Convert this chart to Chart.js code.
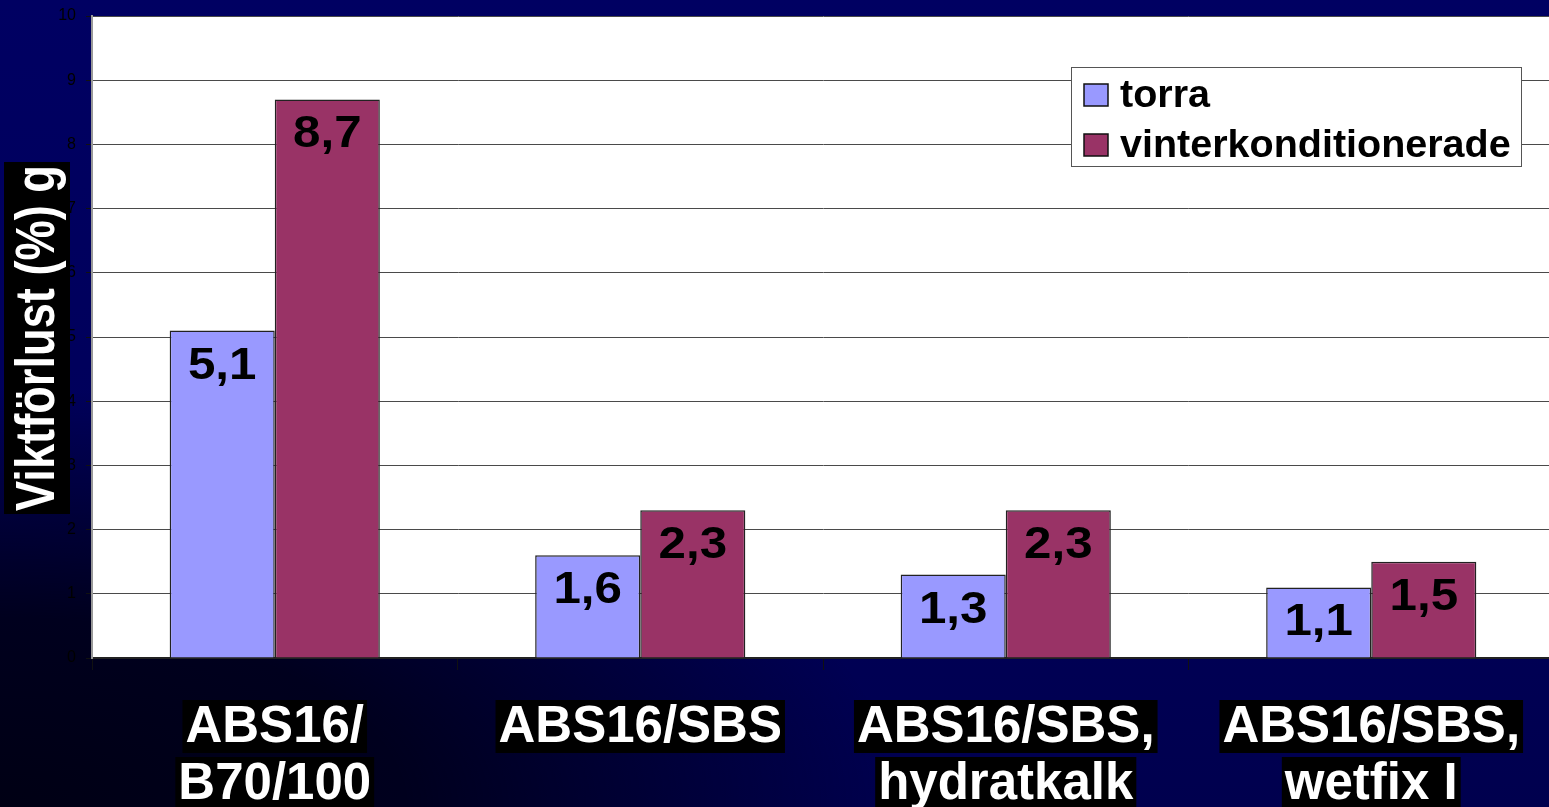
<!DOCTYPE html>
<html>
<head>
<meta charset="utf-8">
<title>Viktförlust</title>
<script src="https://cdn.jsdelivr.net/npm/chart.js@4.4.1/dist/chart.umd.min.js"></script>
<style>
    html, body {
        margin: 0;
        padding: 0;
        width: 1549px;
        height: 807px;
        overflow: hidden;
    }
    body {
        background:
            radial-gradient(ellipse 900px 420px at 0% 100%, #000014 0%, #00001e 45%, rgba(0,0,40,0) 100%),
            linear-gradient(180deg, #000062 0%, #00005a 60%, #00004e 100%);
    }
    #chart {
        position: absolute;
        left: 0;
        top: 0;
    }
</style>
</head>
<body>
<canvas id="chart" width="1554" height="807"></canvas>
<script>
"use strict";

///////////////// DATA //////////////////////////////
// categories on the x axis (each entry is one line of the label)
const categories = [
    ['ABS16/', 'B70/100'],
    ['ABS16/SBS'],
    ['ABS16/SBS,', 'hydratkalk'],
    ['ABS16/SBS,', 'wetfix I']
];
// series names
const seriesNames = ['torra', 'vinterkonditionerade'];
// weight loss values, one array per series
const torra = [5.1, 1.6, 1.3, 1.1];
const vinter = [8.7, 2.3, 2.3, 1.5];
// y axis ticks 0..10
const yTicks = [0, 1, 2, 3, 4, 5, 6, 7, 8, 9, 10];
const yTitle = 'Viktförlust (%) g';

const colors = ['#9999ff', '#993366'];

///////////////// PLUGINS //////////////////////////////
// white plot background
const plotBackground = {
    id: 'plotBackground',
    beforeDraw(chart) {
        const { ctx, chartArea } = chart;
        ctx.save();
        ctx.fillStyle = '#ffffff';
        ctx.fillRect(chartArea.left, chartArea.top, chartArea.right - chartArea.left, chartArea.bottom - chartArea.top);
        ctx.restore();
    }
};

// value labels drawn inside the top of each bar, with a decimal comma
const barLabels = {
    id: 'barLabels',
    afterDatasetsDraw(chart) {
        const ctx = chart.ctx;
        ctx.save();
        ctx.font = 'bold 44px "Liberation Sans", Arial, sans-serif';
        ctx.fillStyle = '#000';
        ctx.textAlign = 'center';
        ctx.textBaseline = 'alphabetic';
        chart.data.datasets.forEach((ds, i) => {
            const meta = chart.getDatasetMeta(i);
            meta.data.forEach((bar, j) => {
                const txt = String(ds.data[j]).replace('.', ',');
                ctx.save();
                ctx.translate(bar.x, bar.y + 48);
                ctx.scale(1.12, 1);
                ctx.fillText(txt, 0, 0);
                ctx.restore();
            });
        });
        ctx.restore();
    }
};

// axis labels with black boxes behind them, plus the legend box
const decorations = {
    id: 'decorations',
    afterDraw(chart) {
        const ctx = chart.ctx;
        const xScale = chart.scales.x;

        // x category labels
        ctx.save();
        ctx.font = 'bold 51px "Liberation Sans", Arial, sans-serif';
        ctx.textAlign = 'center';
        ctx.textBaseline = 'middle';
        categories.forEach((lines, i) => {
            const cx = xScale.getPixelForValue(i);
            lines.forEach((line, k) => {
                const cy = 726 + k * 57;
                const w = ctx.measureText(line).width + 6;
                ctx.fillStyle = '#000';
                ctx.fillRect(cx - w / 2, cy - 26, w, 53);
                ctx.fillStyle = '#fff';
                ctx.fillText(line, cx, cy + 2);
            });
        });
        ctx.restore();

        // rotated y axis title
        ctx.save();
        ctx.translate(37, 338);
        ctx.rotate(-Math.PI / 2);
        ctx.fillStyle = '#000';
        ctx.fillRect(-176, -33, 352, 66);
        ctx.font = 'bold 55px "Liberation Sans", Arial, sans-serif';
        const tw = ctx.measureText(yTitle).width;
        ctx.scale(346 / tw, 1);
        ctx.fillStyle = '#fff';
        ctx.textAlign = 'center';
        ctx.textBaseline = 'alphabetic';
        ctx.fillText(yTitle, 0, 17);
        ctx.restore();

        // legend
        ctx.save();
        ctx.fillStyle = '#fff';
        ctx.fillRect(1071, 67, 450, 99);
        ctx.strokeStyle = '#555';
        ctx.lineWidth = 1;
        ctx.strokeRect(1071.5, 67.5, 450, 99);
        ctx.font = 'bold 39.5px "Liberation Sans", Arial, sans-serif';
        ctx.textBaseline = 'middle';
        ctx.textAlign = 'left';
        chart.data.datasets.forEach((ds, i) => {
            const y = 95 + i * 50;
            ctx.fillStyle = ds.backgroundColor;
            ctx.fillRect(1084, y - 11, 24, 22);
            ctx.strokeStyle = '#111';
            ctx.lineWidth = 1.5;
            ctx.strokeRect(1084, y - 11, 24, 22);
            ctx.fillStyle = '#000';
            ctx.fillText(ds.label, 1120, y + 1);
        });
        ctx.restore();
    }
};

///////////////// CHART //////////////////////////////
const chart = new Chart(document.querySelector('#chart'), {
    type: 'bar',
    data: {
        labels: categories,
        datasets: [
            {
                label: seriesNames[0],
                data: torra,
                backgroundColor: colors[0],
                borderColor: '#222',
                borderWidth: 1.5
            },
            {
                label: seriesNames[1],
                data: vinter,
                backgroundColor: colors[1],
                borderColor: '#222',
                borderWidth: 1.5
            }
        ]
    },
    options: {
        responsive: false,
        animation: false,
        layout: {
            padding: { top: 16, left: 0, right: 0, bottom: 0 }
        },
        datasets: {
            bar: {
                categoryPercentage: 0.575,
                barPercentage: 1.0
            }
        },
        plugins: {
            legend: { display: false },
            tooltip: { enabled: false }
        },
        scales: {
            x: {
                offset: true,
                ticks: { display: false },
                grid: {
                    display: true,
                    drawOnChartArea: false,
                    drawTicks: true,
                    tickLength: 12,
                    tickColor: '#111'
                },
                border: { display: true, color: '#222', width: 2 },
                afterFit(scale) {
                    scale.height = 149;
                    scale.paddingLeft = 0;
                    scale.paddingRight = 0;
                }
            },
            y: {
                min: yTicks[0],
                max: yTicks[yTicks.length - 1],
                afterBuildTicks(scale) {
                    scale.ticks = yTicks.map(v => ({ value: v }));
                },
                ticks: {
                    color: '#000',
                    padding: 10,
                    font: { family: '"Liberation Sans", Arial, sans-serif', size: 16 }
                },
                grid: {
                    color: '#4a4a4a',
                    lineWidth: 1,
                    drawTicks: true,
                    tickLength: 6,
                    tickColor: '#111'
                },
                border: { display: true, color: '#999', width: 2 },
                afterFit(scale) {
                    scale.width = 92;
                    scale.paddingTop = 0;
                    scale.paddingBottom = 0;
                }
            }
        }
    },
    plugins: [plotBackground, barLabels, decorations]
});
</script>
</body>
</html>
